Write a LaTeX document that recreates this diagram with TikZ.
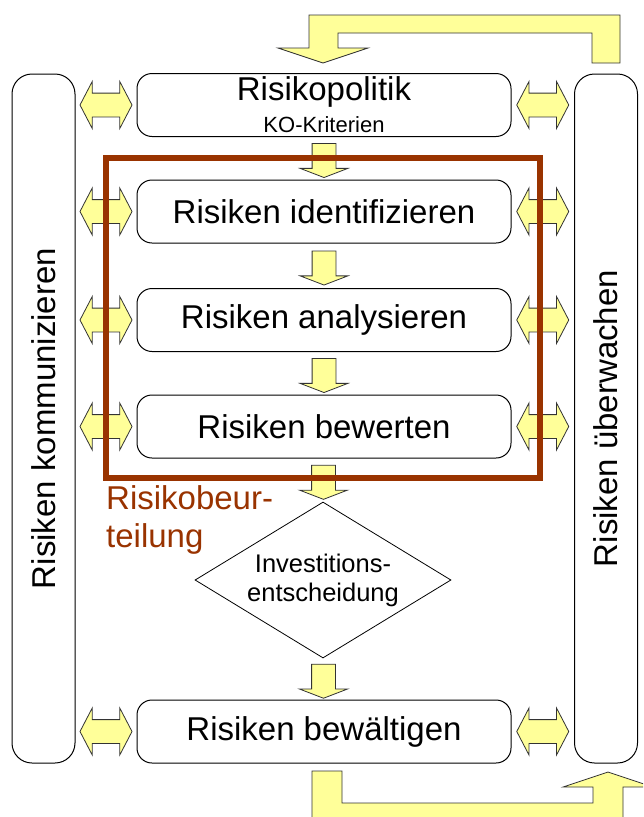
\documentclass[tikz,border=0pt]{standalone}
\usepackage{fontspec}
\setmainfont{Liberation Sans}
\usetikzlibrary{positioning,shapes.geometric,shapes.arrows,calc}
\definecolor{pale}{HTML}{FFFF99}
\definecolor{rust}{HTML}{993300}
\tikzset{
  stage/.style={draw, rounded corners=15pt, line width=1pt, minimum width=374pt, minimum height=63pt, inner sep=0pt, font=\fontsize{33}{38}\selectfont},
  sidebar/.style={draw, rounded corners=20pt, line width=1pt, minimum width=63pt, minimum height=689pt, inner sep=0pt},
  twoway/.style={double arrow, draw=black!80, fill=pale, line width=0.8pt, minimum height=52pt, minimum width=46pt, double arrow head extend=11.5pt, double arrow tip angle=125, inner xsep=0pt, inner ysep=11.5pt},
  oneway/.style={single arrow, draw=black!80, fill=pale, line width=0.8pt, minimum height=34pt, minimum width=47pt, single arrow head extend=12pt, single arrow tip angle=138, rotate=-90, inner xsep=0pt, inner ysep=11.5pt}
}
\begin{document}
\begin{tikzpicture}[x=1pt, y=-1pt]
  \useasboundingbox[fill=white] (0,0) rectangle (643,817);
  \clip (0,0) rectangle (643,817);
  % feedback loops
  \draw[fill=pale, draw=black!80, line width=0.8pt] (620,63) -- (620,15) -- (309,15) -- (309,48) -- (278,48) -- (323,63) -- (368,48) -- (338,48) -- (338,33) -- (592,33) -- (592,63) -- cycle;
  \draw[fill=pale, draw=black!80, line width=0.8pt] (312,830) -- (312,771) -- (342,771) -- (342,803) -- (593,803) -- (593,787) -- (563,787) -- (608,772) -- (653,787) -- (623,787) -- (623,830) -- cycle;
  % side bars
  \node[sidebar] (komm) at (43.5,418.5) {};
  \node[sidebar] (ueber) at (606,418.5) {};
  \node[rotate=90, font=\fontsize{33}{38}\selectfont] at (komm) {Risiken kommunizieren};
  \node[rotate=90, font=\fontsize{33}{38}\selectfont] at (ueber) {Risiken überwachen};
  % process steps
  \node[stage, align=center] (pol) at (324,105) {Risikopolitik\\[-6pt]{\fontsize{22}{25}\selectfont KO-Kriterien}};
  \node[stage] (ident) at (324,211.5) {Risiken identifizieren};
  \node[stage] (anal) at (324,320) {Risiken analysieren};
  \node[stage] (bew) at (324,426.5) {Risiken bewerten};
  \node[diamond, draw, line width=0.8pt, aspect=1.64, minimum width=256pt, minimum height=156pt, inner sep=0pt, align=center, font=\fontsize{25.5}{29}\selectfont] (inv) at (323,580) {Investitions-\\entscheidung};
  \node[stage] (bewae) at (324,731.5) {Risiken bewältigen};
  % flow arrows
  \node[oneway] (a1) at ($(pol.south)!0.5!(ident.north)$) {};
  \node[oneway] (a2) at ($(ident.south)!0.5!(anal.north)$) {};
  \node[oneway] (a3) at ($(anal.south)!0.5!(bew.north)$) {};
  \node[oneway] (a4) at ($(bew.south)!0.5!(inv.north)$) {};
  \node[oneway] (a5) at ($(inv.south)!0.5!(bewae.north)$) {};
  \foreach \n in {pol,ident,anal,bew,bewae} {
    \node[twoway] (l-\n) at ($(komm.east |- \n.west)!0.5!(\n.west)$) {};
    \node[twoway] (r-\n) at ($(\n.east)!0.5!(ueber.west |- \n.east)$) {};
  }
  % Risikobeurteilung frame
  \draw[rust, line width=6pt] (106,158) rectangle (540,478);
  \node[text=rust, anchor=north west, align=left, inner sep=0pt, font=\fontsize{33}{38}\selectfont] (beur) at (106,485) {Risikobeur-\\teilung};
\end{tikzpicture}
\end{document}
